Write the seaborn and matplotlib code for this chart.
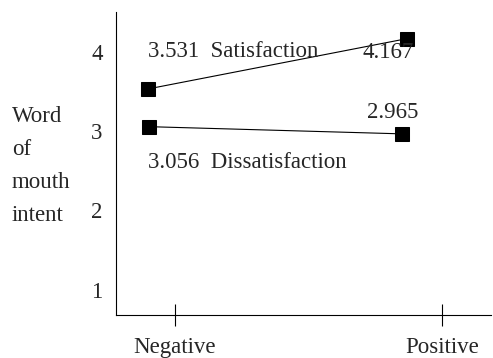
import pandas as pd
import matplotlib.pyplot as plt
import seaborn as sns

# values
conditions = ['Negative', 'Positive']
sat_x = [-0.101, 0.869]
sat_y = [3.531, 4.167]
dis_x = [-0.097, 0.850]
dis_y = [3.056, 2.965]

df = pd.DataFrame({
    'x': sat_x + dis_x,
    'wom': sat_y + dis_y,
    'group': ['Satisfaction'] * 2 + ['Dissatisfaction'] * 2,
})

sns.set_style('white')
plt.rcParams['font.family'] = ['Liberation Serif', 'DejaVu Serif']
fs = 16.5

fig = plt.figure(figsize=(4.93, 3.58), dpi=100)
ax = fig.add_axes([0.235, 0.12, 0.76, 0.846])

sns.lineplot(data=df, x='x', y='wom', hue='group', palette=['black', 'black'],
             marker='s', markersize=9.5, markeredgecolor='black', linewidth=0.8,
             legend=False, ax=ax)

ax.set_xlim(-0.22, 1.18)
ax.set_ylim(0.68, 4.5)
ax.set_xticks([0, 1])
ax.set_xticklabels(conditions)
ax.set_yticks([1, 2, 3, 4])
ax.set_xlabel('')
ax.set_ylabel('')
ax.tick_params(axis='y', left=False, pad=6, labelsize=fs)
ax.tick_params(axis='x', bottom=True, direction='inout', length=16, width=0.8,
               color='black', pad=8, labelsize=fs)

for side in ['top', 'right']:
    ax.spines[side].set_visible(False)
for side in ['left', 'bottom']:
    ax.spines[side].set_color('black')
    ax.spines[side].set_linewidth(0.8)

# value labels
ax.text(-0.101, 4.0, '3.531  Satisfaction', fontsize=fs, va='center', ha='left')
ax.text(0.70, 3.99, '4.167', fontsize=fs, va='center', ha='left')
ax.text(0.72, 3.24, '2.965', fontsize=fs, va='center', ha='left')
ax.text(-0.101, 2.60, '3.056  Dissatisfaction', fontsize=fs, va='center', ha='left')

fig.text(12 / 493, 0.535, 'Word\nof\nmouth\nintent', fontsize=fs,
         va='center', ha='left', linespacing=1.75)

fig.savefig('out.png', dpi=100)
